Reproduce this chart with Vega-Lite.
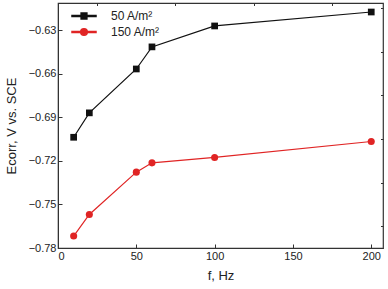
{
  "$schema": "https://vega.github.io/schema/vega-lite/v6.json",
  "autosize": "none",
  "width": 325,
  "height": 245,
  "padding": {"left": 58, "top": 3, "right": 5, "bottom": 41},
  "background": "white",
  "config": {
    "font": "Liberation Sans",
    "view": {"stroke": "#333333", "strokeWidth": 1.2},
    "axis": {
      "grid": false,
      "domainColor": "#333333",
      "tickColor": "#333333",
      "labelColor": "#222222",
      "titleColor": "#222222",
      "labelFont": "Liberation Sans",
      "titleFont": "Liberation Sans",
      "labelFontSize": 11,
      "titleFontSize": 13,
      "titleFontWeight": "normal",
      "tickSize": -4,
      "labelPadding": 6
    },
    "legend": {
      "title": null,
      "orient": "none",
      "legendX": 19,
      "legendY": 6,
      "padding": 0,
      "symbolSize": 144,
      "labelOffset": 20,
      "rowPadding": 3,
      "labelFontSize": 12,
      "labelFont": "Liberation Sans",
      "labelColor": "#222222",
      "symbolOpacity": 1
    }
  },
  "data": {
    "values": [
      {"f": 10, "E": -0.7038, "series": "50 A/m²"},
      {"f": 20, "E": -0.6870, "series": "50 A/m²"},
      {"f": 50, "E": -0.6568, "series": "50 A/m²"},
      {"f": 60, "E": -0.6416, "series": "50 A/m²"},
      {"f": 100, "E": -0.6272, "series": "50 A/m²"},
      {"f": 200, "E": -0.6176, "series": "50 A/m²"},
      {"f": 10, "E": -0.7718, "series": "150 A/m²"},
      {"f": 20, "E": -0.7569, "series": "150 A/m²"},
      {"f": 50, "E": -0.7278, "series": "150 A/m²"},
      {"f": 60, "E": -0.7214, "series": "150 A/m²"},
      {"f": 100, "E": -0.7177, "series": "150 A/m²"},
      {"f": 200, "E": -0.7067, "series": "150 A/m²"}
    ]
  },
  "resolve": {"axis": {"x": "independent", "y": "independent"}},
  "layer": [
    {
      "mark": {"type": "line", "strokeWidth": 1.2},
      "encoding": {
        "x": {
          "field": "f", "type": "quantitative",
          "scale": {"domain": [0, 207.5], "nice": false, "zero": false},
          "axis": {"values": [0, 50, 100, 150, 200], "title": "f, Hz", "titlePadding": 8}
        },
        "y": {
          "field": "E", "type": "quantitative",
          "scale": {"domain": [-0.78, -0.6114], "nice": false, "zero": false},
          "axis": {"values": [-0.78, -0.75, -0.72, -0.69, -0.66, -0.63], "format": ".2f", "title": "Ecorr, V vs. SCE", "titlePadding": 10}
        },
        "color": {
          "field": "series", "type": "nominal",
          "scale": {"domain": ["50 A/m²", "150 A/m²"], "range": ["#111111", "#e02424"]}
        }
      }
    },
    {
      "transform": [{"filter": "datum.series === '50 A/m²'"}],
      "mark": {"type": "point", "shape": "square", "filled": true, "size": 45, "opacity": 1, "color": "#111111"},
      "encoding": {
        "x": {"field": "f", "type": "quantitative", "axis": {"values": [25, 75, 125, 175], "labels": false, "domain": false, "tickSize": -2.5, "title": null}},
        "y": {"field": "E", "type": "quantitative", "axis": {"values": [-0.765, -0.735, -0.705, -0.675, -0.645, -0.615], "labels": false, "domain": false, "tickSize": -2.5, "title": null}}
      }
    },
    {
      "transform": [{"filter": "datum.series === '150 A/m²'"}],
      "mark": {"type": "point", "shape": "circle", "filled": true, "size": 50, "opacity": 1, "color": "#e02424"},
      "encoding": {
        "x": {"field": "f", "type": "quantitative", "axis": null},
        "y": {"field": "E", "type": "quantitative", "axis": null}
      }
    },
    {
      "mark": {"type": "point", "filled": true, "size": 0, "opacity": 1},
      "encoding": {
        "x": {"field": "f", "type": "quantitative", "axis": null},
        "y": {"field": "E", "type": "quantitative", "axis": null},
        "shape": {
          "field": "series", "type": "nominal",
          "scale": {
            "domain": ["50 A/m²", "150 A/m²"],
            "range": [
              "M-2,-0.08H2V0.08H-2ZM-0.48,-0.48H0.48V0.48H-0.48Z",
              "M-2,-0.08H2V0.08H-2ZM0.55,0A0.55,0.55 0 1,1 -0.55,0A0.55,0.55 0 1,1 0.55,0Z"
            ]
          }
        },
        "color": {
          "field": "series", "type": "nominal",
          "scale": {"domain": ["50 A/m²", "150 A/m²"], "range": ["#111111", "#e02424"]}
        }
      }
    }
  ]
}
